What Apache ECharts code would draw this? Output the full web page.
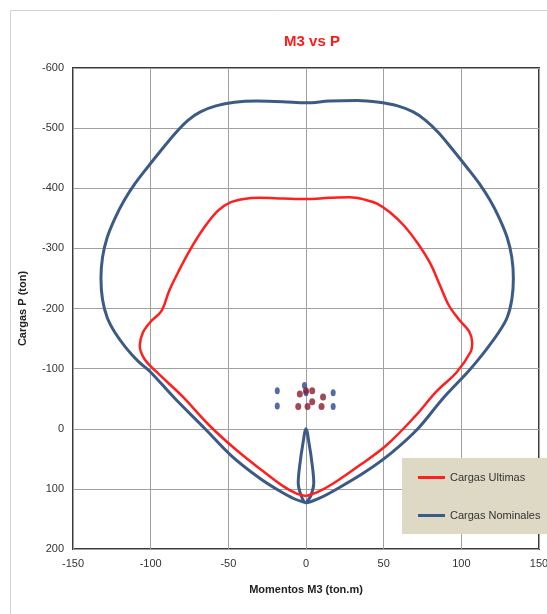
<!DOCTYPE html>
<html><head><meta charset="utf-8">
<script src="https://cdn.jsdelivr.net/npm/echarts@6/dist/echarts.min.js"></script>
<style>html,body{margin:0;padding:0;background:#fff}#c{width:547px;height:614px}</style>
</head><body><div id="c"></div>
<script>
const xTicks = [-150, -100, -50, 0, 50, 100, 150];
const yTicks = [-600, -500, -400, -300, -200, -100, 0, 100, 200];
const seriesNames = ['Cargas Ultimas', 'Cargas Nominales'];

// Cargas Nominales curve [M3, P]
const nominalCurve = [
  [0,123],[-8,116],[-18,102],[-30,82],[-48,45],[-65,0],[-85,-52],[-100,-94],[-108,-112],[-116,-135],
  [-123,-160],[-128,-185],[-131,-215],[-132,-250],[-131,-285],[-128,-318],[-123,-350],[-117,-380],
  [-110,-408],[-102,-435],[-93,-464],[-84,-492],[-76,-513],[-68,-527],[-58,-537],[-46,-543],
  [-32,-545],[-15,-544],[0,-542],[15,-545],[33,-546],[47,-543],[59,-537],[69,-527],[77,-513],
  [85.5,-492],[94.5,-464],[103.5,-435],[111.5,-408],[118.5,-380],[124.5,-350],[129.5,-318],
  [132.5,-285],[133.5,-250],[132.5,-215],[129.5,-185],[124,-160],[117,-135],[110,-112],
  [104,-94],[88,-50],[72,0],[55,40],[38,72],[20,100],[9,115],[0,123],
  [-3,112],[-5,90],[-4,60],[-2,25],[0,0],[2,25],[4,60],[5,90],[3,112],[0,123]
];
// Cargas Ultimas curve [M3, P]
const ultimateCurve = [
  [0,112],[-6,108],[-15,95],[-28,70],[-45,35],[-62,-5],[-80,-55],[-96,-94],[-104,-116],[-107,-138],
  [-105,-160],[-100,-178],[-93,-196],[-88,-230],[-82,-262],[-75,-296],[-66,-333],[-57,-362],
  [-49,-376],[-40,-382],[-30,-384],[-15,-383],[0,-382],[15,-384],[28,-385],[38,-381],[46,-374],
  [54,-360],[63,-338],[72,-308],[80,-275],[86,-240],[92,-205],[99,-180],[105,-162],[107,-144],
  [106,-128],[97,-94],[84,-62],[70,-20],[52,27],[35,60],[17,92],[7,106],[0,112]
];
// load points [M3, P]
const nominalLoads = [[-18.5,-63],[-18.5,-38],[17.5,-60],[17.5,-37],[-1,-72],[0,-60]];
const ultimateLoads = [[-4,-58],[4,-63],[11,-53],[10,-37],[-5,-37],[1,-37],[4,-45],[0,-63]];

const FONT = "'Liberation Sans',Arial,sans-serif";
const chart = echarts.init(document.getElementById('c'));
chart.setOption({
  animation: false,
  backgroundColor: '#fff',
  title: {
    text: 'M3 vs P', left: 307, top: 29, textAlign: 'center',
    textStyle: {color: '#ff1a1a', fontFamily: FONT, fontWeight: 'bold', fontSize: 15}
  },
  graphic: [{
    type: 'rect', shape: {x: 10.5, y: 10.5, width: 700, height: 800},
    style: {fill: 'none', stroke: '#d4d4d4', lineWidth: 1}, silent: true, z: -1
  }],
  grid: {left: 73, right: 8, top: 68, bottom: 65, outerBoundsMode: 'none', containLabel: false,
         show: true, borderColor: '#3a3a3a', borderWidth: 2, backgroundColor: '#fff'},
  legend: {
    data: seriesNames, orient: 'vertical', left: 402, top: 458,
    backgroundColor: '#ddd9c4', padding: [13, 40, 12, 16], itemGap: 25,
    icon: 'rect', itemWidth: 27, itemHeight: 3,
    textStyle: {fontFamily: FONT, fontSize: 11, color: '#333', lineHeight: 13}
  },
  xAxis: {
    type: 'value', min: xTicks[0], max: xTicks[xTicks.length-1], interval: 50,
    name: 'Momentos M3 (ton.m)', nameLocation: 'middle', nameGap: 35,
    nameTextStyle: {fontFamily: FONT, fontWeight: 'bold', fontSize: 11, color: '#222'},
    axisLine: {show: false}, axisTick: {show: false},
    axisLabel: {fontFamily: FONT, fontSize: 11, color: '#333', margin: 9},
    splitLine: {show: true, lineStyle: {color: '#a0a0a0', width: 1}}
  },
  yAxis: {
    type: 'value', inverse: true, min: yTicks[0], max: yTicks[yTicks.length-1], interval: 100,
    name: 'Cargas P (ton)', nameLocation: 'middle', nameGap: 45, nameRotate: 90,
    nameTextStyle: {fontFamily: FONT, fontWeight: 'bold', fontSize: 11, color: '#222'},
    axisLine: {show: false}, axisTick: {show: false},
    axisLabel: {fontFamily: FONT, fontSize: 11, color: '#333', margin: 9},
    splitLine: {show: true, lineStyle: {color: '#a0a0a0', width: 1}}
  },
  series: [
    {name: seriesNames[0], type: 'line', data: ultimateCurve, smooth: 0.35, symbol: 'none',
     color: '#ff1f1f', lineStyle: {width: 2.5, color: '#ff1f1f'}, z: 3},
    {name: seriesNames[1], type: 'line', data: nominalCurve, smooth: 0.35, symbol: 'none',
     color: '#3b5b86', lineStyle: {width: 3, color: '#3b5b86'}, z: 2},
    {name: 'nominal loads', type: 'scatter', data: nominalLoads, symbol: 'circle', symbolSize: [5, 7],
     itemStyle: {color: '#2b4590'}, z: 4},
    {name: 'ultimate loads', type: 'scatter', data: ultimateLoads, symbol: 'circle', symbolSize: [6, 7],
     itemStyle: {color: '#8a1c30'}, z: 5}
  ]
});
</script></body></html>
